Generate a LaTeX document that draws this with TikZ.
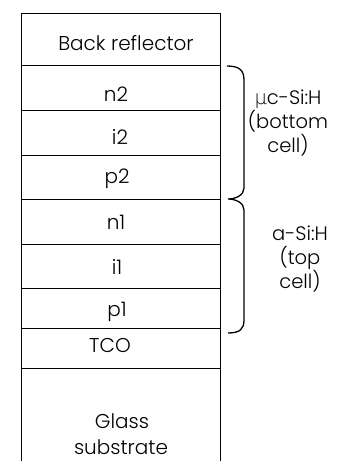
\documentclass[tikz,border=0pt]{standalone}
\usepackage{fontspec}
\setmainfont{Poppins}[UprightFont=* Light]
\newfontfamily\mufont{DejaVu Sans ExtraLight}
\begin{document}
\begin{tikzpicture}[x=1pt,y=-1pt,
  lbl/.style={font=\fontsize{20}{22}\selectfont, inner sep=0pt, anchor=center},
  side/.style={font=\fontsize{19.5}{24}\selectfont, align=center, inner sep=0pt, anchor=center},
  edge/.style={line width=1pt, black},
  sep/.style={line width=1pt, black},
  bracepath/.style={line width=1.3pt, black}]
\useasboundingbox (0,0) rectangle (348,461);
% outline
\coordinate (tl) at (21,13);
\coordinate (tr) at (220,13);
\coordinate (bl) at (21,462);
\coordinate (br) at (220,462);
\draw[edge] (bl) -- (tl) -- (tr) -- (br);
% separators
\foreach \y/\n in {65/a,110/b,155/c,199/d,244/e,288/f,328/g,368/h}{
  \coordinate (L\n) at (21,\y);
  \coordinate (R\n) at (220,\y);
  \draw[sep] (L\n) -- (R\n);
}
% labels
\node[lbl] (back) at (126,43) {Back reflector};
\node[lbl] (n2) at (116,94) {n2};
\node[lbl] (i2) at (120,137) {i2};
\node[lbl] (p2) at (117,179) {p2};
\node[lbl] (n1) at (116,222) {n1};
\node[lbl] (i1) at (117,267) {i1};
\node[lbl] (p1) at (117,312) {p1};
\node[lbl] (tco) at (110,345) {TCO};
\node[lbl] (glass) at (122,421) {Glass};
\node[lbl] (subs) at (121,447) {substrate};
% brace
\coordinate (bt) at (227,66);
\coordinate (bm) at (228,199);
\coordinate (bb) at (228,333);
\draw[bracepath] (bt) .. controls (239,66) and (244,70) .. (244,80)
  -- (244,188) .. controls (244,195) and (236,199) .. (bm)
  .. controls (236,199) and (244,203) .. (244,210)
  -- (244,320) .. controls (244,329) and (240,333) .. (bb);
\node[side] (uc) at (288,123) {{\mufont\fontsize{19.5}{24}\selectfont μ}c-Si:H\\(bottom\\cell)};
\node[side] (ac) at (300,259) {a-Si:H\\(top\\cell)};
\end{tikzpicture}
\end{document}
